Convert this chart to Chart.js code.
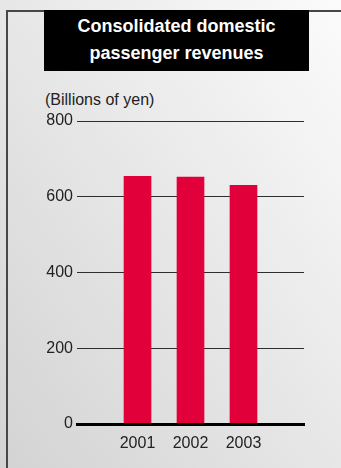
<!DOCTYPE html>
<html>
<head>
<meta charset="utf-8">
<script src="https://cdn.jsdelivr.net/npm/chart.js@4.4.0/dist/chart.umd.min.js"></script>
<style>
  html, body { margin: 0; padding: 0; }
  body {
    width: 341px; height: 468px; position: relative; overflow: hidden;
    background: linear-gradient(to top right, #d3d3d3, #fbfbfb);
    font-family: "Liberation Sans", Arial, sans-serif;
  }
  #frame {
    position: absolute; left: 6px; top: 10px; right: -4px; bottom: -4px;
    border-left: 2px solid #474747; border-top: 2px solid #474747;
  }
  #title {
    position: absolute; left: 44px; top: 10px; width: 265px; height: 61px;
    background: #000; color: #fff; text-align: center;
    font-family: "Liberation Sans", Arial, sans-serif;
    font-weight: bold; font-size: 18px;
    line-height: 27px; padding-top: 3px; box-sizing: border-box;
  }
  #unit {
    position: absolute; left: 45px; top: 92px; font-size: 16px;
    line-height: 16px; color: #222;
  }
  #chart { position: absolute; left: 0; top: 0; }
</style>
</head>
<body>
<div id="frame"></div>
<div id="title">Consolidated domestic<br>passenger revenues</div>
<div id="unit">(Billions of yen)</div>
<canvas id="chart" width="341" height="468"></canvas>
<script>
const years = [2001, 2002, 2003];
const revenues = [654, 652, 630];
const yTicks = [0, 200, 400, 600, 800];

document.addEventListener("DOMContentLoaded", function() {
    const ctx = document.getElementById("chart").getContext("2d");

    new Chart(ctx, {
        type: 'bar',
        data: {
            datasets: [{
                data: years.map((yr, i) => ({ x: yr, y: revenues[i] })),
                backgroundColor: '#e1003a',
                borderWidth: 0,
                barThickness: 27
            }]
        },
        options: {
            responsive: false,
            animation: false,
            layout: { padding: { top: 121, right: 37, bottom: 0, left: 0 } },
            plugins: { legend: { display: false }, tooltip: { enabled: false } },
            scales: {
                x: {
                    type: 'linear',
                    offset: false,
                    min: 1999.858,
                    max: 2004.142,
                    afterBuildTicks: scale => { scale.ticks = years.map(v => ({ value: v })); },
                    afterFit: scale => { scale.height = 44; },
                    grid: { display: false, drawTicks: false },
                    border: { display: true, color: '#000', width: 3, z: 1 },
                    ticks: {
                        padding: 10,
                        color: '#222',
                        font: { family: 'Liberation Sans', size: 16 },
                        callback: v => String(v)
                    }
                },
                y: {
                    min: 0,
                    max: 800,
                    afterBuildTicks: scale => { scale.ticks = yTicks.map(v => ({ value: v })); },
                    afterFit: scale => { scale.width = 77; },
                    grid: {
                        drawTicks: false,
                        color: c => c.tick && c.tick.value === 0 ? 'rgba(0,0,0,0)' : '#2e2e2e',
                        lineWidth: 1
                    },
                    border: { display: false },
                    ticks: {
                        padding: 4,
                        color: '#222',
                        font: { family: 'Liberation Sans', size: 16 }
                    }
                }
            }
        }
    });
});
</script>
</body>
</html>
